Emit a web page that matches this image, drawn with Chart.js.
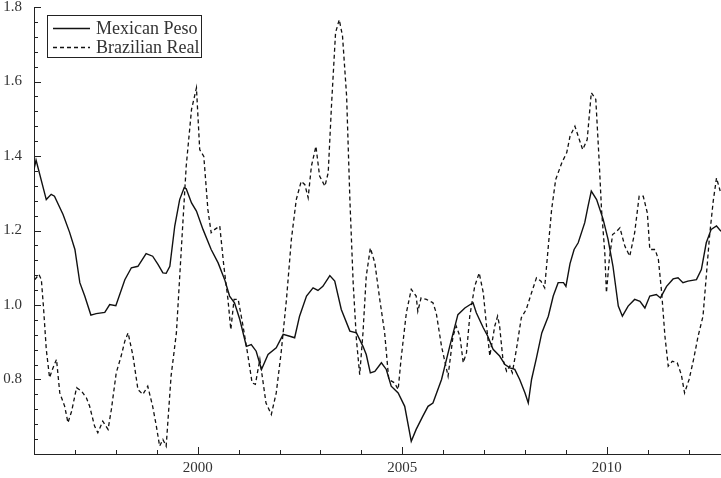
<!DOCTYPE html>
<html>
<head>
<meta charset="utf-8">
<title>Mexican Peso vs Brazilian Real</title>
<script src="https://cdn.jsdelivr.net/npm/chart.js@4.4.1/dist/chart.umd.min.js"></script>
<style>
    html, body { margin: 0; padding: 0; background: #fff; }
    #Canvas-Main { display: block; }
</style>
</head>
<body>
<canvas id="Canvas-Main" width="721" height="478"></canvas>
<script>
// values (year, level)
var pesoYears = [1996.00, 1996.05, 1996.30, 1996.42, 1996.50, 1996.71, 1996.87, 1997.00, 1997.12, 1997.24,
    1997.39, 1997.52, 1997.73, 1997.85, 1998.00, 1998.22, 1998.38, 1998.54, 1998.74, 1998.90,
    1999.03, 1999.15, 1999.23, 1999.32, 1999.44, 1999.56, 1999.67, 1999.72, 1999.85, 1999.97,
    2000.13, 2000.33, 2000.50, 2000.66, 2000.78, 2000.90, 2001.03, 2001.19, 2001.31, 2001.43,
    2001.56, 2001.72, 2001.92, 2002.09, 2002.25, 2002.37, 2002.49, 2002.66, 2002.82, 2002.94,
    2003.06, 2003.23, 2003.35, 2003.51, 2003.72, 2003.88, 2004.04, 2004.12, 2004.22, 2004.33,
    2004.49, 2004.61, 2004.73, 2004.90, 2005.06, 2005.22, 2005.34, 2005.50, 2005.63, 2005.75,
    2005.96, 2006.16, 2006.36, 2006.53, 2006.73, 2006.81, 2006.98, 2007.09, 2007.22, 2007.38,
    2007.51, 2007.63, 2007.75, 2007.87, 2008.00, 2008.08, 2008.16, 2008.28, 2008.41, 2008.57,
    2008.69, 2008.81, 2008.94, 2009.00, 2009.10, 2009.20, 2009.30, 2009.46, 2009.54, 2009.62,
    2009.75, 2009.91, 2010.03, 2010.15, 2010.28, 2010.38, 2010.52, 2010.68, 2010.81, 2010.93,
    2011.05, 2011.21, 2011.31, 2011.46, 2011.62, 2011.74, 2011.86, 2011.98, 2012.19, 2012.31,
    2012.43, 2012.55, 2012.68, 2012.79];
var pesoValues = [1.364, 1.389, 1.283, 1.297, 1.292, 1.243, 1.195, 1.149, 1.060, 1.024,
    0.973, 0.977, 0.980, 1.001, 0.998, 1.068, 1.100, 1.104, 1.138, 1.131,
    1.109, 1.086, 1.085, 1.104, 1.212, 1.283, 1.315, 1.312, 1.274, 1.252,
    1.203, 1.149, 1.113, 1.068, 1.024, 1.006, 0.961, 0.889, 0.894, 0.876,
    0.827, 0.867, 0.885, 0.921, 0.916, 0.912, 0.970, 1.024, 1.046, 1.039,
    1.050, 1.079, 1.064, 0.988, 0.930, 0.925, 0.889, 0.867, 0.818, 0.822,
    0.845, 0.827, 0.782, 0.764, 0.728, 0.634, 0.666, 0.701, 0.728, 0.737,
    0.800, 0.889, 0.974, 0.992, 1.006, 0.979, 0.939, 0.916, 0.881, 0.863,
    0.840, 0.831, 0.827, 0.800, 0.764, 0.737, 0.800, 0.858, 0.925, 0.970,
    1.024, 1.060, 1.060, 1.050, 1.111, 1.149, 1.167, 1.221, 1.265, 1.306,
    1.283, 1.230, 1.176, 1.104, 0.997, 0.970, 0.997, 1.015, 1.010, 0.992,
    1.024, 1.028, 1.019, 1.050, 1.070, 1.073, 1.060, 1.064, 1.068, 1.095,
    1.167, 1.203, 1.212, 1.198];

var realYears = [1996.02, 1996.12, 1996.18, 1996.23, 1996.30, 1996.38, 1996.45, 1996.55, 1996.63, 1996.75,
    1996.83, 1996.92, 1997.04, 1997.16, 1997.28, 1997.36, 1997.48, 1997.56, 1997.68, 1997.81,
    1997.89, 1998.01, 1998.13, 1998.22, 1998.30, 1998.42, 1998.54, 1998.66, 1998.78, 1998.90,
    1998.99, 1999.07, 1999.15, 1999.23, 1999.35, 1999.48, 1999.60, 1999.72, 1999.85, 1999.97,
    2000.05, 2000.15, 2000.25, 2000.33, 2000.42, 2000.54, 2000.64, 2000.74, 2000.81, 2000.89,
    2000.99, 2001.11, 2001.23, 2001.33, 2001.41, 2001.52, 2001.67, 2001.80, 2001.92, 2002.04,
    2002.17, 2002.29, 2002.41, 2002.53, 2002.62, 2002.70, 2002.78, 2002.89, 2002.98, 2003.11,
    2003.19, 2003.27, 2003.37, 2003.46, 2003.54, 2003.64, 2003.72, 2003.80, 2003.88, 2003.96,
    2004.04, 2004.12, 2004.22, 2004.33, 2004.45, 2004.57, 2004.67, 2004.81, 2004.90, 2004.97,
    2005.10, 2005.22, 2005.34, 2005.38, 2005.46, 2005.59, 2005.75, 2005.83, 2005.96, 2006.12,
    2006.24, 2006.32, 2006.41, 2006.49, 2006.57, 2006.65, 2006.77, 2006.88, 2006.98, 2007.06,
    2007.14, 2007.26, 2007.33, 2007.38, 2007.46, 2007.55, 2007.63, 2007.69, 2007.79, 2007.91,
    2008.03, 2008.16, 2008.28, 2008.39, 2008.48, 2008.57, 2008.65, 2008.75, 2008.90, 2009.02,
    2009.10, 2009.22, 2009.30, 2009.41, 2009.52, 2009.62, 2009.73, 2009.81, 2009.87, 2009.95,
    2009.99, 2010.06, 2010.14, 2010.24, 2010.32, 2010.44, 2010.56, 2010.68, 2010.79, 2010.89,
    2010.99, 2011.05, 2011.18, 2011.26, 2011.34, 2011.42, 2011.50, 2011.60, 2011.72, 2011.82,
    2011.90, 2012.01, 2012.12, 2012.23, 2012.35, 2012.43, 2012.51, 2012.60, 2012.68, 2012.77];
var realValues = [1.068, 1.082, 1.068, 0.997, 0.881, 0.805, 0.827, 0.854, 0.764, 0.728,
    0.684, 0.715, 0.778, 0.769, 0.751, 0.728, 0.675, 0.657, 0.688, 0.666,
    0.719, 0.818, 0.863, 0.903, 0.925, 0.863, 0.773, 0.760, 0.782, 0.728,
    0.675, 0.621, 0.639, 0.621, 0.809, 0.925, 1.149, 1.373, 1.525, 1.583,
    1.417, 1.399, 1.256, 1.194, 1.203, 1.212, 1.104, 1.015, 0.934, 1.015,
    1.015, 0.943, 0.863, 0.791, 0.787, 0.854, 0.737, 0.706, 0.764, 0.872,
    1.015, 1.176, 1.283, 1.332, 1.323, 1.288, 1.373, 1.426, 1.346, 1.319,
    1.355, 1.534, 1.731, 1.766, 1.722, 1.561, 1.283, 1.060, 0.907, 0.813,
    0.925, 1.077, 1.153, 1.113, 1.015, 0.925, 0.800, 0.791, 0.773, 0.854,
    0.979, 1.042, 1.024, 0.983, 1.019, 1.015, 1.006, 0.979, 0.889, 0.809,
    0.916, 0.943, 0.916, 0.845, 0.872, 0.970, 1.050, 1.086, 1.033, 0.943,
    0.863, 0.943, 0.970, 0.943, 0.854, 0.822, 0.836, 0.818, 0.881, 0.966,
    0.988, 1.033, 1.073, 1.064, 1.046, 1.158, 1.256, 1.337, 1.382, 1.409,
    1.453, 1.480, 1.453, 1.417, 1.444, 1.570, 1.552, 1.391, 1.256, 1.140,
    1.033, 1.122, 1.189, 1.198, 1.207, 1.158, 1.131, 1.194, 1.292, 1.292,
    1.247, 1.149, 1.149, 1.122, 1.033, 0.916, 0.836, 0.849, 0.845, 0.813,
    0.764, 0.800, 0.854, 0.916, 0.970, 1.077, 1.185, 1.279, 1.341, 1.306];

var xLabels = [2000, 2005, 2010];
var yLabels = [0.8, 1.0, 1.2, 1.4, 1.6, 1.8];
var seriesNames = ['Mexican Peso', 'Brazilian Real'];

var xMin = 1996, xMax = 2012.79;
var yMin = 0.6, yMax = 1.8;
var inkColor = '#222';
var textColor = '#333';
var axisFont = { family: "'Liberation Serif', 'DejaVu Serif', serif", size: 15 };

function toPoints(xs, ys) {
    return xs.map(function (x, i) { return { x: x, y: ys[i] }; });
}

// inward tick marks, drawn from the scales
var innerTicks = {
    id: 'innerTicks',
    afterDraw: function (chart) {
        var ctx = chart.ctx;
        var xs = chart.scales.x, ys = chart.scales.y;
        var area = chart.chartArea;
        ctx.save();
        ctx.strokeStyle = inkColor;
        ctx.lineWidth = 1;
        ctx.beginPath();
        for (var yr = 1997; yr <= 2012; yr++) {
            var px = Math.round(xs.getPixelForValue(yr)) + 0.5;
            var len = (yr % 5 === 0) ? 7 : 4;
            ctx.moveTo(px, area.bottom);
            ctx.lineTo(px, area.bottom - len);
        }
        for (var k = 1; k <= 30; k++) {
            var v = yMin + k * 0.04;
            var py = Math.round(ys.getPixelForValue(v)) + 0.5;
            var major = (k % 5 === 0);
            ctx.moveTo(area.left, py);
            ctx.lineTo(area.left + (major ? 7 : 4), py);
        }
        ctx.stroke();
        ctx.restore();
    }
};

// boxed legend in the top left corner
var boxLegend = {
    id: 'boxLegend',
    afterDraw: function (chart) {
        var ctx = chart.ctx;
        var bx = 47.5, by = 15.5, bw = 154, bh = 42;
        ctx.save();
        ctx.fillStyle = '#fff';
        ctx.fillRect(bx, by, bw, bh);
        ctx.strokeStyle = inkColor;
        ctx.lineWidth = 1;
        ctx.strokeRect(bx, by, bw, bh);
        ctx.font = "18px 'Liberation Serif', 'DejaVu Serif', serif";
        ctx.textBaseline = 'middle';
        chart.data.datasets.forEach(function (ds, i) {
            var ly = 28.5 + i * 19;
            ctx.strokeStyle = ds.borderColor;
            ctx.lineWidth = ds.borderWidth;
            ctx.setLineDash(ds.borderDash || []);
            ctx.beginPath();
            ctx.moveTo(53, ly);
            ctx.lineTo(90, ly);
            ctx.stroke();
            ctx.setLineDash([]);
            ctx.fillStyle = textColor;
            ctx.fillText(ds.label, 96, ly + 1);
        });
        ctx.restore();
    }
};

var ctx = document.getElementById('Canvas-Main').getContext('2d');
var myChart = new Chart(ctx, {
    type: 'line',
    data: {
        datasets: [
            {
                label: seriesNames[0],
                data: toPoints(pesoYears, pesoValues),
                borderColor: '#111',
                borderWidth: 1.4,
                pointRadius: 0,
                tension: 0,
                fill: false
            },
            {
                label: seriesNames[1],
                data: toPoints(realYears, realValues),
                borderColor: '#111',
                borderWidth: 1.3,
                borderDash: [4, 3],
                pointRadius: 0,
                tension: 0,
                fill: false
            }
        ]
    },
    options: {
        responsive: false,
        animation: false,
        devicePixelRatio: 1,
        layout: {
            padding: { top: 7, right: 0, bottom: 0, left: 0 }
        },
        plugins: {
            legend: { display: false },
            tooltip: { enabled: false }
        },
        scales: {
            x: {
                type: 'linear',
                min: xMin,
                max: xMax,
                grid: { display: false },
                border: { display: true, color: inkColor, width: 1 },
                ticks: {
                    color: textColor,
                    font: axisFont,
                    padding: -3,
                    maxRotation: 0,
                    autoSkip: false,
                    callback: function (v) { return String(v); }
                },
                afterBuildTicks: function (scale) {
                    scale.ticks = xLabels.map(function (v) { return { value: v }; });
                },
                afterFit: function (scale) {
                    scale.height = 24;
                    scale.paddingLeft = 0;
                    scale.paddingRight = 0;
                }
            },
            y: {
                type: 'linear',
                min: yMin,
                max: yMax,
                grid: { display: false },
                border: { display: true, color: inkColor, width: 1 },
                ticks: {
                    color: textColor,
                    font: axisFont,
                    padding: 4,
                    autoSkip: false,
                    callback: function (v) { return Number(v).toFixed(1); }
                },
                afterBuildTicks: function (scale) {
                    scale.ticks = yLabels.map(function (v) { return { value: v }; });
                },
                afterFit: function (scale) {
                    scale.width = 34;
                    scale.paddingTop = 0;
                    scale.paddingBottom = 0;
                }
            }
        }
    },
    plugins: [innerTicks, boxLegend]
});
</script>
</body>
</html>
